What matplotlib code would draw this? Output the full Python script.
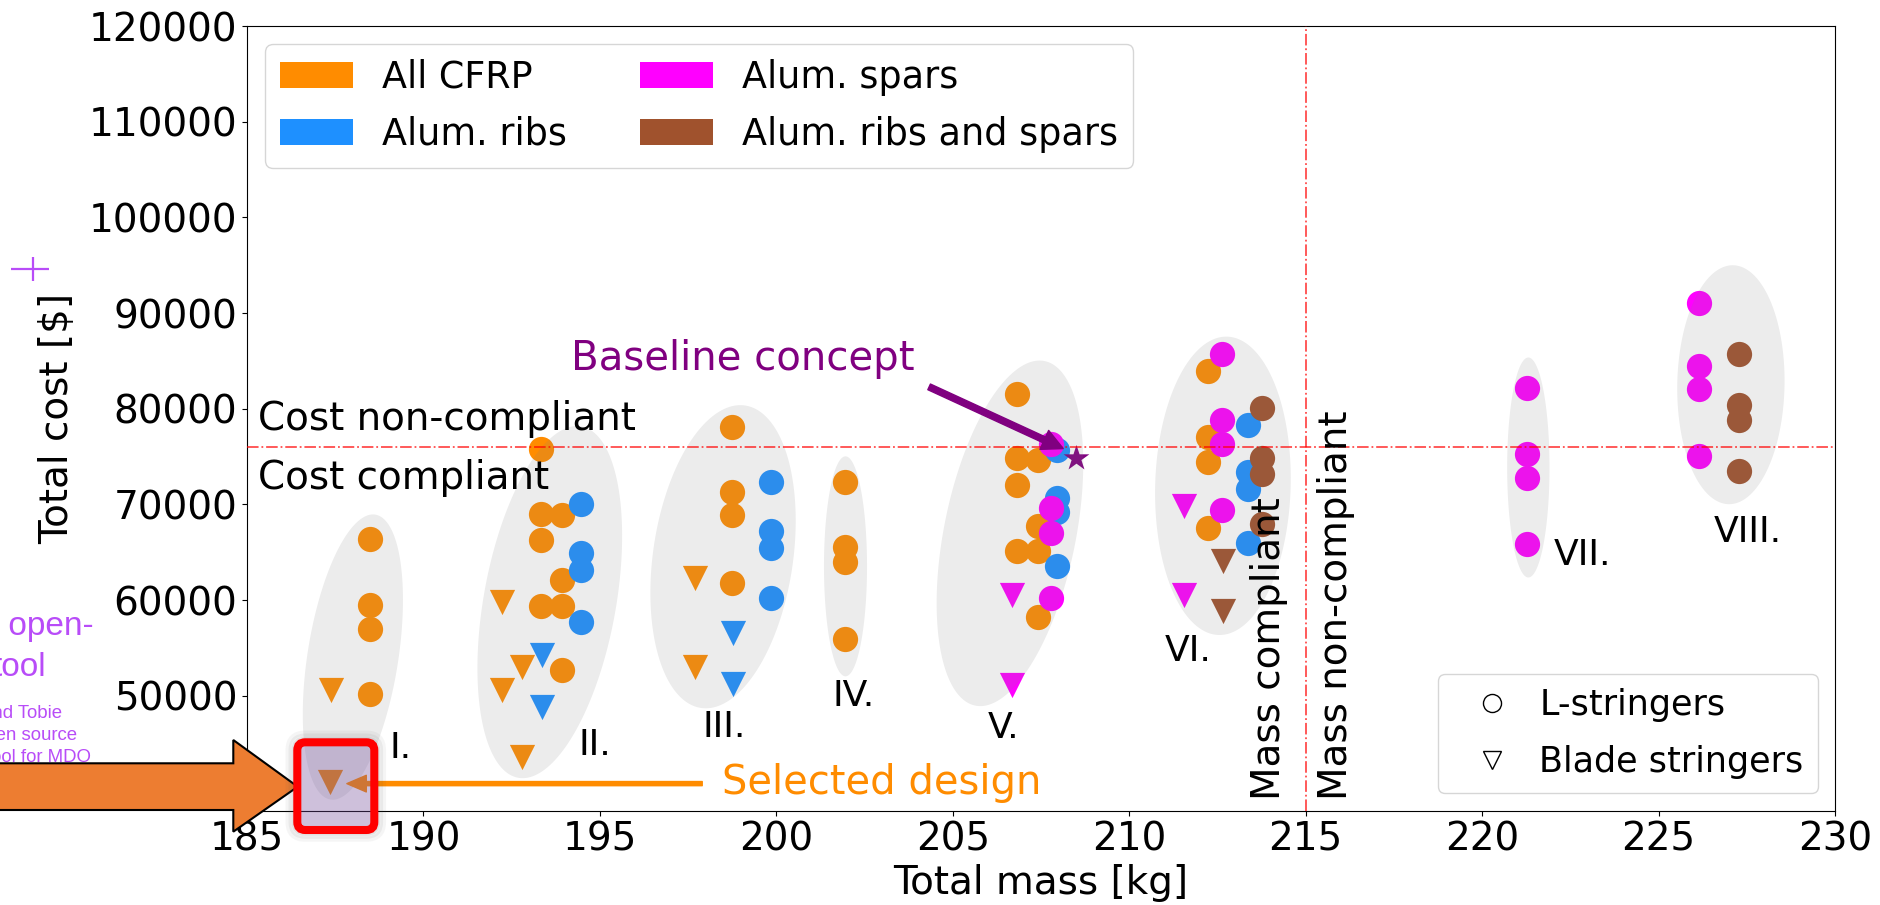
import numpy as np
import matplotlib
matplotlib.use("Agg")
import matplotlib.pyplot as plt
from matplotlib.patches import Patch, Polygon, FancyBboxPatch
from matplotlib.lines import Line2D

# ---------------- data ----------------
# All-CFRP wing boxes
cfrp_L_mass = [188.48, 188.48, 188.48, 188.48,
               193.33, 193.33, 193.92, 193.33, 193.92, 193.33, 193.92, 193.92,
               198.74, 198.74, 198.74, 198.74,
               201.96, 201.96, 201.96, 201.96,
               206.81, 206.81, 207.41, 206.81, 207.41, 206.81, 207.41, 207.41,
               212.24, 212.24, 212.24, 212.24]
cfrp_L_cost = [66360, 59530, 57000, 50240,
               75780, 69050, 68880, 66260, 62080, 59430, 59430, 52670,
               78110, 71310, 68880, 61800,
               72330, 65550, 63940, 55950,
               81570, 74830, 74630, 72010, 67770, 65150, 65150, 58290,
               83910, 77050, 74430, 67570]
cfrp_B_mass = [187.37, 187.35, 192.24, 192.78, 192.24, 192.78, 197.70, 197.70]
cfrp_B_cost = [50600, 41000, 59770, 53010, 50590, 43660, 62300, 53000]

# Aluminium ribs
ribs_L_mass = [194.46, 194.46, 194.46, 194.46,
               199.86, 199.86, 199.86, 199.86,
               207.94, 207.94, 207.94, 207.94,
               213.38, 213.38, 213.38, 213.38]
ribs_L_cost = [70050, 64900, 63180, 57690,
               72380, 67230, 65450, 60230,
               75720, 70720, 69180, 63540,
               78260, 73420, 71600, 65960]
ribs_B_mass = [193.35, 193.35, 198.76, 198.76]
ribs_B_cost = [54230, 48860, 56600, 51230]

# Aluminium spars
spars_L_mass = [207.77, 207.77, 207.77, 207.77,
                212.62, 212.62, 212.62, 212.62,
                221.28, 221.28, 221.28, 221.28,
                226.14, 226.14, 226.14, 226.14]
spars_L_cost = [76360, 69590, 67040, 60230,
                85720, 78860, 76360, 69380,
                82130, 75270, 72770, 65830,
                91010, 84470, 82050, 75110]
spars_B_mass = [206.67, 206.67, 211.54, 211.54]
spars_B_cost = [60510, 51150, 69790, 60510]

# Aluminium ribs and spars
both_L_mass = [213.76, 213.76, 213.76, 213.76, 227.27, 227.27, 227.27, 227.27]
both_L_cost = [80070, 74830, 73210, 67970, 85760, 80440, 78820, 73500]
both_B_mass = [212.66, 212.66]
both_B_cost = [64140, 58900]

baseline_mass, baseline_cost = 208.48, 74830
selected_mass, selected_cost = 187.35, 41000

mass_limit = 215
cost_limit = 76000

material_labels = ["All CFRP", "Alum. ribs", "Alum. spars", "Alum. ribs and spars"]
material_colors = ["darkorange", "dodgerblue", "magenta", "sienna"]

# cluster groupings: label, label position, ellipse top, ellipse bottom, half width
cluster_names = ["I.", "II.", "III.", "IV.", "V.", "VI.", "VII.", "VIII."]
cluster_label_xy = [(189.34, 44520), (194.87, 44870), (198.51, 46710), (202.19, 50020),
                    (206.44, 46590), (211.67, 54660), (222.85, 64700), (227.53, 67130)]
cluster_top = [(188.57, 68960), (194.35, 78200), (198.98, 80380), (201.96, 75030),
               (207.46, 85040), (212.75, 87540), (221.31, 85360), (227.10, 95000)]
cluster_bottom = [(187.43, 39150), (192.81, 41400), (198.00, 48700), (201.96, 52040),
                  (205.78, 48930), (212.56, 56360), (221.31, 62370), (227.00, 70030)]
cluster_halfwidth = [1.3, 1.9, 2.0, 0.61, 1.9, 1.92, 0.6, 1.52]

xticks = list(range(185, 231, 5))
yticks = list(range(40000, 120001, 10000))

# ---------------- figure ----------------
W, H = 1880, 905
fig = plt.figure(figsize=(W / 100, H / 100), dpi=100)
ax = fig.add_axes([247 / W, 1 - 810.7 / H, (1835 - 247) / W, (810.7 - 26) / H])

MS = 330
series = [
    (cfrp_L_mass, cfrp_L_cost, cfrp_B_mass, cfrp_B_cost, material_colors[0]),
    (ribs_L_mass, ribs_L_cost, ribs_B_mass, ribs_B_cost, material_colors[1]),
    (spars_L_mass, spars_L_cost, spars_B_mass, spars_B_cost, material_colors[2]),
    (both_L_mass, both_L_cost, both_B_mass, both_B_cost, material_colors[3]),
]
for lx, ly, bx, by, c in series:
    ax.scatter(lx, ly, s=MS, marker="o", color=c, linewidths=0, zorder=2)
    ax.scatter(bx, by, s=MS, marker="v", color=c, linewidths=0, zorder=2)

ax.scatter([baseline_mass], [baseline_cost], s=380, marker="*", color="purple",
           linewidths=0, zorder=2.5)

# grey ellipses grouping the design families
t = np.linspace(0, 2 * np.pi, 300)
for top, bot, hw in zip(cluster_top, cluster_bottom, cluster_halfwidth):
    cx, cy = (top[0] + bot[0]) / 2, (top[1] + bot[1]) / 2
    xs = cx + np.cos(t) * (top[0] - cx) + np.sin(t) * hw
    ys = cy + np.cos(t) * (top[1] - cy)
    ax.fill(xs, ys, color="gray", alpha=0.15, lw=0, zorder=3)

for name, (lx, ly) in zip(cluster_names, cluster_label_xy):
    ax.text(lx, ly, name, fontsize=26, ha="center", va="center", zorder=5)

# compliance limits
ax.axhline(cost_limit, color="red", ls="-.", lw=1.3, alpha=0.7, zorder=3.5)
ax.axvline(mass_limit, color="red", ls="-.", lw=1.3, alpha=0.7, zorder=3.5)
ax.text(185.32, 77760, "Cost non-compliant", fontsize=28, ha="left", va="baseline", zorder=5)
ax.text(185.32, 71590, "Cost compliant", fontsize=28, ha="left", va="baseline", zorder=5)
ax.text(214.5, 39100, "Mass compliant", fontsize=28, rotation=90, ha="right",
        va="bottom", zorder=5)
ax.text(215.33, 39100, "Mass non-compliant", fontsize=28, rotation=90, ha="left",
        va="bottom", zorder=5)

# annotations
ax.text(194.19, 84035, "Baseline concept", fontsize=29, color="purple",
        ha="left", va="baseline", zorder=5)
ax.annotate("", xy=(208.13, 75840), xytext=(204.33, 82290),
            arrowprops=dict(facecolor="purple", edgecolor="purple", width=4.5,
                            headwidth=15, headlength=15, shrink=0), zorder=5)
ax.text(198.45, 39700, "Selected design", fontsize=28.8, color="darkorange",
        ha="left", va="baseline", zorder=5)
ax.annotate("", xy=(187.83, 40830), xytext=(197.9, 40830),
            arrowprops=dict(facecolor="darkorange", edgecolor="darkorange", width=3,
                            headwidth=12, headlength=14, shrink=0), zorder=5)

ax.set_xlim(185, 230)
ax.set_ylim(38000, 120000)
ax.set_xticks(xticks)
ax.set_yticks(yticks)
ax.tick_params(labelsize=28)
ax.set_xlabel("Total mass [kg]", fontsize=28, labelpad=4)
ax.set_ylabel("Total cost [$]", fontsize=28, labelpad=9)

mat_handles = [Patch(facecolor=c, label=l) for c, l in zip(material_colors, material_labels)]
leg1 = ax.legend(handles=mat_handles, loc="upper left", ncol=2, fontsize=26.3,
                 labelspacing=0.55)
leg1.set_zorder(10)
ax.add_artist(leg1)
str_handles = [Line2D([], [], ls="none", marker="o", mfc="none", mec="black", ms=13,
                      label="L-stringers"),
               Line2D([], [], ls="none", marker="v", mfc="none", mec="black", ms=13,
                      label="Blade stringers")]
leg2 = ax.legend(handles=str_handles, loc="lower right", fontsize=25.2,
                 handlelength=2.3, handletextpad=0.2, labelspacing=0.65)
leg2.set_zorder(10)

# ---------------- slide overlay (pixel coordinates) ----------------
ov = fig.add_axes([0, 0, 1, 1], zorder=20)
ov.set_xlim(0, W)
ov.set_ylim(H, 0)
ov.axis("off")
ov.patch.set_alpha(0)

arrow_pts = [(-10, 763.3), (233.3, 763.3), (233.3, 740), (297.7, 786.7),
             (233.3, 831.7), (233.3, 810), (-10, 810)]
ov.add_patch(Polygon(arrow_pts, closed=True, facecolor="#ED7D31", edgecolor="black",
                     lw=1.5, joinstyle="miter"))

# soft shadow round the highlight box, then the box itself
for grow, a in [(9, 0.05), (6, 0.07), (3, 0.09)]:
    ov.add_patch(FancyBboxPatch((297.3 - grow, 742.3 - grow), 77 + 2 * grow, 87.7 + 2 * grow,
                                boxstyle="round,pad=0,rounding_size=%g" % (8 + grow),
                                facecolor="none", edgecolor=(0.3, 0.3, 0.3, a), lw=4))
ov.add_patch(FancyBboxPatch((297.3, 742.3), 77, 87.7,
                            boxstyle="round,pad=0,rounding_size=8",
                            facecolor=(0.45, 0.30, 0.60, 0.35), edgecolor="red", lw=5.8))

violet = "#b84cf8"
lfont = ["Liberation Sans", "DejaVu Sans"]
ov.text(94, 635, "an open-", fontsize=24, color=violet, ha="right", va="baseline",
        family=lfont)
ov.text(46, 676, "tool", fontsize=24, color=violet, ha="right", va="baseline",
        family=lfont)
ov.text(62.5, 718, "and Tobie", fontsize=13.4, color=violet, ha="right",
        va="baseline", family=lfont)
ov.text(77, 740, "open source", fontsize=13.4, color=violet, ha="right",
        va="baseline", family=lfont)
ov.text(91.5, 761.7, "tool for MDO", fontsize=13.4, color=violet, ha="right",
        va="baseline", family=lfont)
ov.plot([11, 49], [269.5, 269.5], color=violet, lw=1.6, solid_capstyle="butt")
ov.plot([33, 33], [257, 281], color=violet, lw=1.6, solid_capstyle="butt")

fig.savefig("out.png", dpi=100, facecolor="white")
